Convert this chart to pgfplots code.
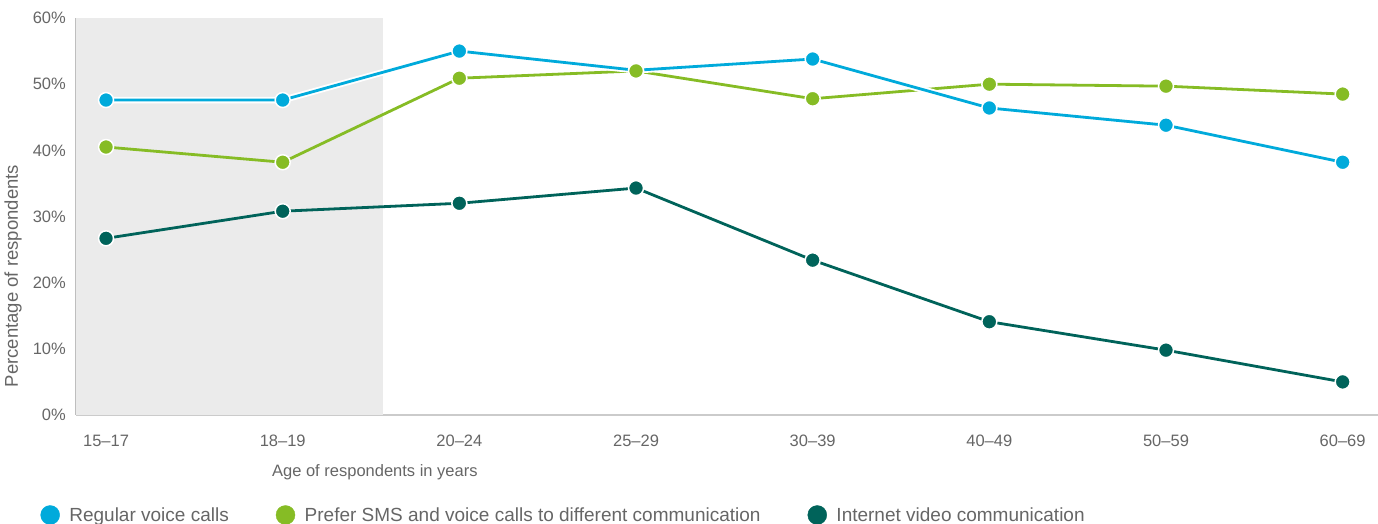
\documentclass[border=0pt]{standalone}
\usepackage{fontspec}
\setmainfont{Liberation Sans}
\usepackage{pgfplots}
\pgfplotsset{compat=1.18}
\definecolor{cblue}{RGB}{0,170,219}
\definecolor{cgreen}{RGB}{134,188,37}
\definecolor{cdark}{RGB}{0,99,90}
\definecolor{ctext}{RGB}{102,102,102}
\definecolor{cshade}{RGB}{235,235,235}
\definecolor{caxis}{RGB}{190,190,190}
\begin{document}
\begin{tikzpicture}
\useasboundingbox (0,0) rectangle (1378bp,524bp);
\begin{axis}[
  at={(76bp,109bp)}, anchor=south west,
  scale only axis, width=1302bp, height=397bp,
  xmin=-0.17, xmax=7.2, ymin=0, ymax=60,
  axis x line*=bottom, axis y line*=left,
  x axis line style={draw=caxis!80, line width=1.2bp, -},
  y axis line style={draw=caxis, line width=1.5bp, -},
  xtick={0,...,7},
  xticklabels={15--17,18--19,20--24,25--29,30--39,40--49,50--59,60--69},
  ytick={0,10,...,60},
  yticklabels={0\%,10\%,20\%,30\%,40\%,50\%,60\%},
  major tick length=0pt,
  tick label style={font=\fontsize{16.5bp}{19bp}\selectfont, text=ctext, inner sep=0pt},
  xticklabel style={anchor=north, yshift=-20bp},
  yticklabel style={anchor=east, xshift=-10bp},
  xlabel={Age of respondents in years},
  ylabel={Percentage of respondents},
  label style={text=ctext, inner sep=0pt},
  xlabel style={font=\fontsize{16.5bp}{19bp}\selectfont, at={(0.1505,-0.1436)}, anchor=west},
  ylabel style={font=\fontsize{18.5bp}{21bp}\selectfont, at={(-0.0484,0.35)}, anchor=center, rotate=0},
  legend columns=3,
  legend style={at={(-0.0273,-0.2519)}, anchor=west, draw=none, fill=none,
    inner sep=0pt, outer sep=0pt,
    font=\fontsize{19bp}{22bp}\selectfont, text=ctext,
    nodes={inner sep=0pt},
    /tikz/every odd column/.append style={column sep=9.5bp},
    /tikz/every even column/.append style={column sep=47bp}},
  legend image code/.code={\fill[#1] (0bp,0bp) circle (9.5bp);},
  clip=false,
]
\addlegendimage{cblue}\addlegendentry{Regular voice calls}
\addlegendimage{cgreen}\addlegendentry{Prefer SMS and voice calls to different communication}
\addlegendimage{cdark}\addlegendentry{Internet video communication}

\fill[cshade] (axis cs:-0.17,0) rectangle (axis cs:1.565,60);

% dark series
\addplot[forget plot, cdark, line width=2.8bp, mark=*, mark size=7.5bp,
  mark options={fill=cdark, draw=white, line width=1.5bp}]
  coordinates {(0,26.7) (1,30.8) (2,32.0) (3,34.3) (4,23.4) (5,14.1) (6,9.8) (7,5.0)};
% green line
\addplot[forget plot, cgreen, line width=2.8bp, mark=none]
  coordinates {(0,40.5) (1,38.2) (2,50.9) (3,52.0) (4,47.8) (5,50.0) (6,49.7) (7,48.5)};
% blue halo
\addplot[forget plot, white, line width=6.5bp, mark=none]
  coordinates {(0,47.6) (1,47.6) (2,55.0) (3,52.1) (4,53.8) (5,46.4) (6,43.8) (7,38.2)};
% blue line
\addplot[forget plot, cblue, line width=2.8bp, mark=*, mark size=7.5bp,
  mark options={fill=cblue, draw=white, line width=1.5bp}]
  coordinates {(0,47.6) (1,47.6) (2,55.0) (3,52.1) (4,53.8) (5,46.4) (6,43.8) (7,38.2)};
% green marks
\addplot[forget plot, cgreen, only marks, mark=*, mark size=7.5bp,
  mark options={fill=cgreen, draw=white, line width=1.5bp}]
  coordinates {(0,40.5) (1,38.2) (2,50.9) (3,52.0) (4,47.8) (5,50.0) (6,49.7) (7,48.5)};
\end{axis}
\end{tikzpicture}
\end{document}
